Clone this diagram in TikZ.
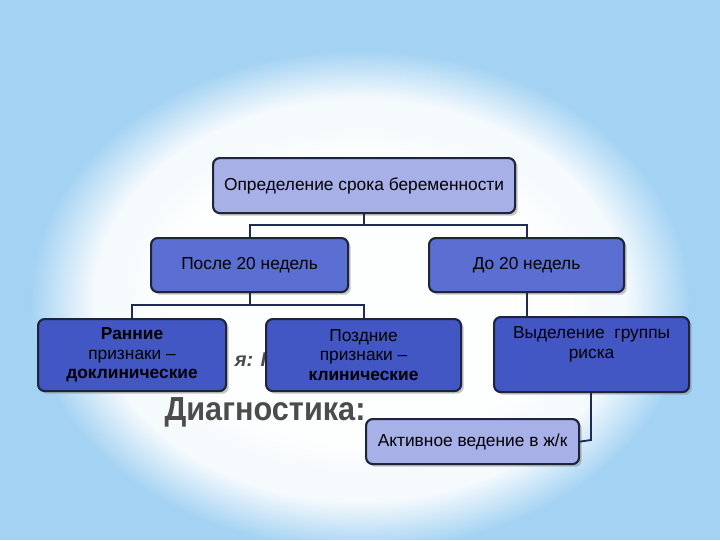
\documentclass[tikz,border=0pt]{standalone}
\usepackage{fontspec}
\setmainfont{Liberation Sans}
\usetikzlibrary{shadows,fadings}
\definecolor{bgblue}{HTML}{A3D2F3}
\definecolor{light}{HTML}{A7B1E8}
\definecolor{mid}{HTML}{5B6FD3}
\definecolor{dark}{HTML}{4257C4}
\definecolor{edge}{HTML}{1E2538}
\definecolor{wire}{HTML}{1F2A55}
\tikzset{
  box/.style={draw=edge, line width=1.6pt, rounded corners=5pt, align=center, font=\fontsize{13}{14.5}\selectfont,
    drop shadow={shadow xshift=2pt, shadow yshift=-2pt, opacity=0.45}, inner sep=2pt},
  wireline/.style={draw=wire, line width=1.4pt}
}
\begin{document}
\begin{tikzpicture}[x=0.75pt,y=-0.75pt]
\useasboundingbox (0,0) rectangle (720,540);
\fill[bgblue] (0,0) rectangle (720,540);
\fill[white, path fading=circle with fuzzy edge 20 percent, opacity=0.9] (360,300) ellipse (330 and 250);
\fill[white, path fading=circle with fuzzy edge 20 percent, opacity=0.8] (360,300) ellipse (250 and 180);
\node[font=\bfseries\itshape\fontsize{15}{17}\selectfont, text=black!70] (hid) at (255,360) {я: П};
\node[font=\bfseries\fontsize{25}{28}\selectfont, text=black!70, xscale=0.92] (diag) at (265,412) {Диагностика:};
\node[box, fill=light, minimum width=302*0.75pt, minimum height=55*0.75pt, anchor=north west] (top) at (212,157) {Определение срока беременности};
\node[box, fill=mid, minimum width=197*0.75pt, minimum height=54*0.75pt, anchor=north west] (after) at (150,237) {После 20 недель};
\node[box, fill=mid, minimum width=195*0.75pt, minimum height=54*0.75pt, anchor=north west] (before) at (428,237) {До 20 недель};
\node[box, fill=dark, minimum width=188*0.75pt, minimum height=72*0.75pt, anchor=north west] (early) at (37,318) {\textbf{Ранние}\\признаки –\\\textbf{доклинические}};
\node[box, fill=dark, minimum width=195*0.75pt, minimum height=72*0.75pt, anchor=north west] (late) at (265,318) {Поздние\\признаки –\\\textbf{клинические}};
\node[box, fill=dark, minimum width=195*0.75pt, minimum height=75*0.75pt, anchor=north west, text depth=18pt] (risk) at (493,316) {Выделение\ \ группы\\риска};
\node[box, fill=light, minimum width=213*0.75pt, minimum height=45*0.75pt, anchor=north west] (act) at (365,418) {Активное ведение в ж/к};
\coordinate (j1) at (363,225);
\coordinate (j2) at (249,305);
\coordinate (ra) at (591,440);
\draw[wireline] (top.south) -- (top.south |- j1);
\draw[wireline] (after.north) |- (j1) -| (before.north);
\draw[wireline] (after.south) -- (after.south |- j2);
\draw[wireline] (early.north) |- (j2) -| (late.north);
\draw[wireline] (before.south) -- (before.south |- risk.north);
\draw[wireline] (risk.south -| ra) -- (ra) -- (act.east);
\end{tikzpicture}
\end{document}
